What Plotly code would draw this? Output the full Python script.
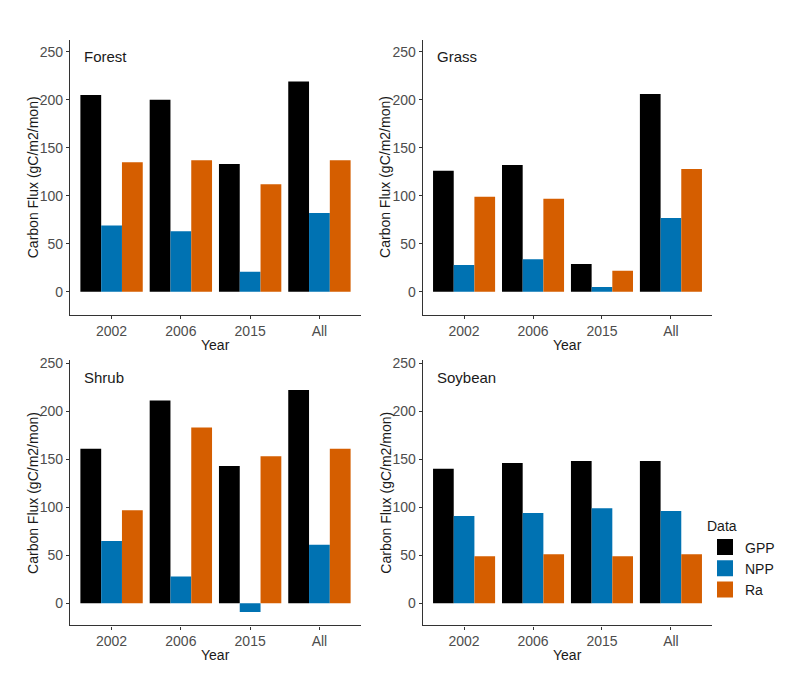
import plotly.graph_objects as go

years = ["2002", "2006", "2015", "All"]
panels = ["Forest", "Grass", "Shrub", "Soybean"]
series = ["GPP", "NPP", "Ra"]
colors = {"GPP": "#000000", "NPP": "#0072B2", "Ra": "#D55E00"}

forest_gpp = [205, 200, 133, 219]
forest_npp = [69, 63, 21, 82]
forest_ra = [135, 137, 112, 137]

grass_gpp = [126, 132, 29, 206]
grass_npp = [28, 34, 5, 77]
grass_ra = [99, 97, 22, 128]

shrub_gpp = [161, 211, 143, 222]
shrub_npp = [65, 28, -9, 61]
shrub_ra = [97, 183, 153, 161]

soy_gpp = [140, 146, 148, 148]
soy_npp = [91, 94, 99, 96]
soy_ra = [49, 51, 49, 51]

data = {
    "Forest": [forest_gpp, forest_npp, forest_ra],
    "Grass": [grass_gpp, grass_npp, grass_ra],
    "Shrub": [shrub_gpp, shrub_npp, shrub_ra],
    "Soybean": [soy_gpp, soy_npp, soy_ra],
}

W, H = 790, 689
FONT = "Liberation Sans, Arial, sans-serif"
# panel pixel boxes: (left, right, top, bottom)
boxes = {
    "Forest": (70, 361, 35, 312),
    "Grass": (422.7, 712.3, 35, 312),
    "Shrub": (70, 361, 358, 625),
    "Soybean": (422.7, 712.3, 358, 625),
}
yranges = {
    "Forest": [-23.8, 262.4],
    "Grass": [-23.8, 262.4],
    "Shrub": [-23.0, 252.8],
    "Soybean": [-23.0, 252.8],
}

fig = go.Figure()
axis_line = "#333333"
tick_font = dict(family=FONT, size=14, color="#4D4D4D")
title_font = dict(family=FONT, size=14, color="#1A1A1A")

annotations = []
for i, p in enumerate(panels):
    n = "" if i == 0 else str(i + 1)
    for s, vals in zip(series, data[p]):
        fig.add_trace(go.Bar(
            x=years, y=vals, name=s, marker=dict(color=colors[s], line=dict(width=0)),
            xaxis="x" + n, yaxis="y" + n, legendgroup=s, showlegend=False,
        ))
    l, r, t, b = boxes[p]
    fig.update_layout(**{
        "xaxis" + n: dict(
            domain=[l / W, r / W], anchor="y" + n, type="category",
            categoryorder="array", categoryarray=years, range=[-0.6, 3.6],
            showline=True, linecolor=axis_line, linewidth=1.2, mirror=False,
            ticks="outside", ticklen=3, tickcolor=axis_line, tickwidth=1,
            showgrid=False, zeroline=False, tickfont=tick_font,
        ),
        "yaxis" + n: dict(
            domain=[1 - b / H, 1 - t / H], anchor="x" + n, range=yranges[p],
            tickvals=[0, 50, 100, 150, 200, 250],
            showline=True, linecolor=axis_line, linewidth=1.2,
            ticks="outside", ticklen=3, tickcolor=axis_line, tickwidth=1,
            showgrid=False, zeroline=False, tickfont=tick_font,
        ),
    })
    # facet label
    annotations.append(dict(text=p, x=(l + 12) / W, y=1 - (t + 17) / H, xref="paper", yref="paper",
                            xanchor="left", yanchor="middle", showarrow=False,
                            font=dict(family=FONT, size=15, color="#1A1A1A")))
    # x title
    annotations.append(dict(text="Year", x=(l + r) / 2 / W, y=1 - (b + 30) / H, xref="paper", yref="paper",
                            xanchor="center", yanchor="middle", showarrow=False, font=title_font))
    # y title
    annotations.append(dict(text="Carbon Flux (gC/m2/mon)", x=(l - 37) / W, y=1 - (t + b) / 2 / H,
                            xref="paper", yref="paper", xanchor="center", yanchor="middle",
                            textangle=-90, showarrow=False, font=title_font))

# legend keys (large filled squares, shared legend group with the bars)
for s in series:
    fig.add_trace(go.Scatter(
        x=[None], y=[None], name=s, mode="markers", legendgroup=s,
        marker=dict(symbol="square", size=16, color=colors[s], line=dict(width=0)),
        xaxis="x4", yaxis="y4", showlegend=True, hoverinfo="skip",
    ))

fig.update_layout(
    width=W, height=H, margin=dict(l=0, r=0, t=0, b=0),
    paper_bgcolor="white", plot_bgcolor="white",
    barmode="group", bargap=0.1, bargroupgap=0,
    annotations=annotations,
    legend=dict(
        title=dict(text="Data", font=dict(family=FONT, size=14, color="#1A1A1A")),
        x=705 / W, y=1 - 512 / H, xanchor="left", yanchor="top",
        font=dict(family=FONT, size=14, color="#1A1A1A"),
        tracegroupgap=0, itemwidth=30, bgcolor="rgba(0,0,0,0)",
    ),
    showlegend=True,
)

fig.write_html("out.html")
